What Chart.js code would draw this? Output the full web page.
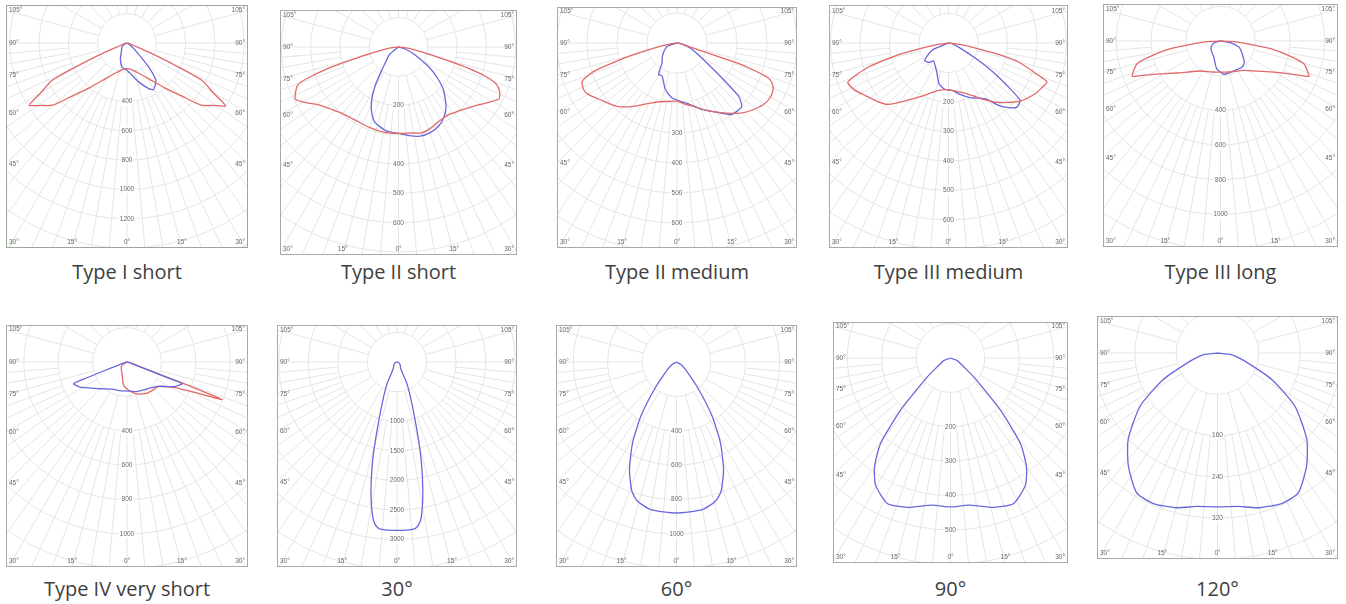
<!DOCTYPE html>
<html>
<head>
<meta charset="utf-8">
<script src="https://cdn.jsdelivr.net/npm/chart.js@4.4.1/dist/chart.umd.min.js"></script>
<style>
  body { margin: 0; background: #fff; width: 1346px; height: 604px; position: relative; overflow: hidden; }
  .panel { position: absolute; }
  .cap { position: absolute; font-family: "Open Sans", sans-serif; font-size: 20px; color: #404040;
         text-align: center; white-space: nowrap; width: 260px; line-height: 24px; }
</style>
</head>
<body>
<script>
// captions
const titles = ['Type I short', 'Type II short', 'Type II medium', 'Type III medium', 'Type III long',
                'Type IV very short', '30°', '60°', '90°', '120°'];

// gamma angles (deg, negative = left half) and intensities (cd)
const t1RedAngle = [-90,-80,-72,-68,-67,-65.2,-63.5,-60,-57.5,-54,-50,-46,-40,-31,-20,-10,0,10,20,31,40,46,50,54,57.5,60,63.5,65.2,67,68,72,80,90];
const t1RedCd    = [0,8,25,80,185,363,571,679,790,725,661,522,400,284,216,185,175,185,216,284,400,522,661,725,797,679,571,363,185,80,25,8,0];
const t1BlueAngle = [-90,-60,-51,-29,-23,-11.8,0,8.8,16.7,25.4,29.7,33,37.8,42,48.7,60,90];
const t1BlueCd    = [0,25,44,83,116,167,186,223,277,345,366,350,322,220,76,20,0];

const t2RedAngle = [-90,-85,-80,-77,-75,-73,-71,-69.5,-66,-63,-58,-54,-47,-40,-30,-20,-10,0,10,15,20,25,30,36.5,40,47,54,58,62.7,66,69,71,73,75,77,80,85,90];
const t2RedCd    = [0,18,55,100,160,255,330,366,385,394,362,336,312,297,290,292,295,295,298,304,300,293,288,287,293,310,336,358,386,378,359,325,255,160,100,55,18,0];
const t2BlueAngle = [-90,-50,-40,-36,-31,-26,-21,-17,-8,0,7,13.6,20,26.8,33,38.8,46.5,52,57,65,75,90];
const t2BlueCd    = [0,40,70,96,156,212,250,271,290,295,305,313,312,303,285,259,211,165,122,60,20,0];

const t3RedAngle = [-90,-82,-78,-74.9,-73,-71.2,-68,-63.4,-59.7,-53.5,-43.5,-34.4,-24,-12.9,0,7,14.7,25,33.7,42,48,54.6,60,64,67,69,70.5,71.6,72,73,78,90];
const t3RedCd    = [0,25,70,150,220,293,341,348,341,318,291,256,219,200,194,205,218,250,280,315,335,354,360,356,345,327,270,211,105,50,15,0];
const t3BlueAngle = [-90,-71,-55,-45,-36.9,-33,-30,-24.7,-14,-5.2,0,12.2,20,30,36.7,41,45.7,49.1,51.8,56.3,62,69,80,90];
const t3BlueCd    = [0,35,55,70,83,105,122,120,160,184,190,210,235,267,298,303,302,272,198,120,75,47,15,0];

const t4RedAngle = [-90,-82,-77.1,-73.3,-68.8,-63.1,-57.9,-50,-44.4,-37.6,-29,-21.5,-11.9,0,11,24,31,38.3,45,51,59.7,65,68.4,70.9,74.8,77,79,83,90];
const t4RedCd    = [0,40,162,283,366,355,334,310,291,250,210,185,164,158,168,194,222,255,285,313,341,352,359,311,246,180,104,40,0];
const t4BlueAngle = [-90,-66,-54,-45,-40,-30,-22,-13,-5,5,11,17,23.1,33.4,38.7,43,46.9,51.3,54.3,57,60,68,80,90];
const t4BlueCd    = [0,62,100,93,79,90,106,142,157,162,175,188,202,226,271,300,318,311,237,180,118,37,10,0];

const t5RedAngle = [-90,-88,-85,-81.3,-78,-74.8,-71,-68.2,-66.6,-63.4,-53.6,-33.7,-15,0,15,38.5,50,59.8,65.6,68.2,71,74.8,78,81.3,85,88,90];
const t5RedCd    = [0,60,135,292,400,498,530,548,503,430,311,208,185,179,185,216,270,356,465,548,530,498,400,292,135,60,0];
const t5BlueAngle = [-90,-75,-57,-40,-22.6,-8,5.7,15,24,39.8,48,54.8,65,72,80,90];
const t5BlueCd    = [0,35,64,80,100,161,193,190,189,195,185,160,130,111,60,0];

const t6RedAngle = [-90,-52.6,-23,-8.1,3.4,15,30,42,52.5,58,62,66.7,68.4,69,69.2,69.5,71,80,90];
const t6RedCd    = [0,41,74,137,165,190,213,222,232,270,318,475,594,420,300,156,60,15,0];
const t6BlueAngle = [-90,-75,-70,-69,-68.5,-67.9,-62,-58.4,-45,-29,-15,0,15,27.9,40,51,58,63.3,68.5,68.8,69.2,70,75,90];
const t6BlueCd    = [0,15,60,150,250,335,310,284,220,180,172,169,178,186,200,225,270,314,344,250,150,60,15,0];

const b30Angle = [-90,-70,-45,-33.7,-27.5,-25,-21.8,-16.6,-13.9,-11.2,-8.9,-7.5,-6,0,6,7.5,8.9,11.2,13.9,16.6,21.8,25,27.5,33.7,45,70,90];
const b30Cd    = [0,30,80,101,159,373,576,1146,1712,2268,2652,2780,2833,2845,2833,2780,2652,2250,1700,1146,576,373,159,101,80,30,0];

const b60Angle = [-90,-60,-49.6,-38.9,-33.3,-28.5,-23.6,-19,-15.6,-9.9,0,9.9,15.6,19,23.6,28.5,33.3,38.9,49.6,60,90];
const b60Cd    = [0,30,69,207,378,536,683,796,841,871,878,871,841,796,683,536,378,207,69,30,0];

const b90Angle = [-90,-70,-56,-50.8,-43.7,-39.3,-34.9,-30.5,-23.5,-16.1,-7.1,0,7.1,16.1,23.5,30.5,34.9,39.3,43.7,50.8,56,70,90];
const b90Cd    = [0,20,47,87,210,321,386,429,461,452,431,433,431,452,461,429,386,321,210,87,47,20,0];

const b120Angle = [-90,-83,-73.2,-63.9,-55.5,-45.9,-38.2,-30,-23.1,-14.8,-7.8,0,7.8,14.8,23.1,30,38.2,45.9,55.5,63.9,73.2,83,90];
const b120Cd    = [0,28,56,117,182,241,279,313,317,310,300,298,300,310,317,313,279,241,182,117,56,28,0];

// ring spacing (cd) and labelled rings per diagram
const ringStep = [200, 100, 100, 100, 200, 200, 500, 200, 100, 80];
const ringLabels = [
  [400, 600, 800, 1000, 1200], [200, 400, 500, 600], [300, 400, 500, 600], [200, 300, 400, 500, 600],
  [400, 600, 800, 1000], [400, 600, 800, 1000], [1000, 1500, 2000, 2500, 3000], [400, 600, 800, 1000],
  [200, 300, 400, 500], [160, 240, 320]
];
const sideAngles = [105, 90, 75, 60, 45];
const bottomAngles = [-30, -15, 0, 15, 30];

const RED = 'rgb(226,104,104)';
const BLUE = 'rgb(104,104,220)';

const curves = [
  [[t1RedAngle, t1RedCd, RED], [t1BlueAngle, t1BlueCd, BLUE]],
  [[t2RedAngle, t2RedCd, RED], [t2BlueAngle, t2BlueCd, BLUE]],
  [[t3RedAngle, t3RedCd, RED], [t3BlueAngle, t3BlueCd, BLUE]],
  [[t4RedAngle, t4RedCd, RED], [t4BlueAngle, t4BlueCd, BLUE]],
  [[t5RedAngle, t5RedCd, RED], [t5BlueAngle, t5BlueCd, BLUE]],
  [[t6BlueAngle, t6BlueCd, BLUE], [t6RedAngle, t6RedCd, RED]],
  [[b30Angle, b30Cd, BLUE]],
  [[b60Angle, b60Cd, BLUE]],
  [[b90Angle, b90Cd, BLUE]],
  [[b120Angle, b120Cd, BLUE]]
];

// layout: box position/size, centre offset from top, pixels per ring, caption top
const boxes = [
  {x: 6,    y: 5,   w: 242, h: 243, off: 38, ring: 29.3, cap: 260, border: '#98aa96'},
  {x: 280,  y: 10,  w: 237, h: 245, off: 37, ring: 29.3, cap: 260, border: '#a9a9a9'},
  {x: 557,  y: 7,   w: 240, h: 241, off: 36, ring: 30,   cap: 260, border: '#a9a9a9'},
  {x: 829,  y: 5,   w: 239, h: 243, off: 38, ring: 29.5, cap: 260, border: '#a9a9a9'},
  {x: 1103, y: 4,   w: 235, h: 243, off: 37, ring: 34.7, cap: 260, border: '#a9a9a9'},
  {x: 6,    y: 325, w: 242, h: 242, off: 37, ring: 34.4, cap: 577, border: '#a9a9a9'},
  {x: 277,  y: 325, w: 240, h: 242, off: 37, ring: 29.6, cap: 577, border: '#a9a9a9'},
  {x: 556,  y: 325, w: 241, h: 242, off: 37, ring: 34.4, cap: 577, border: '#a9a9a9'},
  {x: 833,  y: 322, w: 235, h: 241, off: 36, ring: 34.4, cap: 577, border: '#a9a9a9'},
  {x: 1097, y: 316, w: 241, h: 243, off: 37, ring: 41.3, cap: 577, border: '#a9a9a9'}
];

const rad = d => d * Math.PI / 180;

const polarGrid = {
  id: 'polarGrid',
  beforeDatasetsDraw(chart, args, opts) {
    const {ctx, chartArea: a, scales: {x, y}} = chart;
    const cx = x.getPixelForValue(0), cy = y.getPixelForValue(0);
    const px = v => x.getPixelForValue(v) - cx;
    const rMax = Math.hypot(a.width, a.height);
    ctx.save();
    ctx.beginPath();
    ctx.rect(a.left, a.top, a.width, a.height);
    ctx.clip();
    ctx.strokeStyle = '#e5e5e5';
    ctx.lineWidth = 1;
    for (let k = 1; px(k * opts.step) < rMax; k++) {
      ctx.beginPath();
      ctx.arc(cx, cy, px(k * opts.step), 0, 2 * Math.PI);
      ctx.stroke();
    }
    // spokes: every 15° from the inner ring, extra 5° spokes below horizontal from the second ring
    for (let g = 0; g < 360; g += 5) {
      const lower = g < 90 || g > 270;
      if (g % 15 !== 0 && !lower) continue;
      const r0 = px(g % 15 === 0 ? opts.step : 2 * opts.step);
      ctx.beginPath();
      ctx.moveTo(cx + r0 * Math.sin(rad(g)), cy + r0 * Math.cos(rad(g)));
      ctx.lineTo(cx + rMax * Math.sin(rad(g)), cy + rMax * Math.cos(rad(g)));
      ctx.stroke();
    }

    ctx.font = '6.5px "Liberation Sans", sans-serif';
    ctx.fillStyle = '#666';
    ctx.textBaseline = 'middle';
    // ring values along the 0° line
    ctx.textAlign = 'center';
    opts.labels.forEach(v => {
      const ly = y.getPixelForValue(-v);
      const tw = ctx.measureText(String(v)).width;
      ctx.fillStyle = '#fff';
      ctx.fillRect(cx - tw / 2 - 1, ly - 4, tw + 2, 8);
      ctx.fillStyle = '#666';
      ctx.fillText(String(v), cx, ly);
    });
    // side angles
    sideAngles.forEach(g => {
      const ly = y.getPixelForValue(-x.max * Math.cos(rad(g)) / Math.sin(rad(g)));
      ctx.textAlign = 'left';
      ctx.fillText(g + '°', a.left + 3, ly);
      ctx.textAlign = 'right';
      ctx.fillText(g + '°', a.right - 3, ly);
    });
    // bottom angles
    const by = a.bottom - 6;
    bottomAngles.forEach(g => {
      let lx = x.getPixelForValue(-y.min * Math.tan(rad(g)));
      if (lx <= a.left + 12) { ctx.textAlign = 'left'; lx = a.left + 3; }
      else if (lx >= a.right - 12) { ctx.textAlign = 'right'; lx = a.right - 3; }
      else ctx.textAlign = 'center';
      ctx.fillText(Math.abs(g) + '°', lx, by);
    });
    ctx.restore();
  },
  afterDraw(chart, args, opts) {
    const {ctx, chartArea: a} = chart;
    ctx.save();
    ctx.strokeStyle = opts.border;
    ctx.lineWidth = 1;
    ctx.strokeRect(a.left + 0.5, a.top + 0.5, a.width - 1, a.height - 1);
    ctx.restore();
  }
};

boxes.forEach((b, i) => {
  const div = document.createElement('div');
  div.className = 'panel';
  div.style.left = b.x + 'px';
  div.style.top = b.y + 'px';
  const canvas = document.createElement('canvas');
  canvas.width = b.w;
  canvas.height = b.h;
  div.appendChild(canvas);
  document.body.appendChild(div);

  const cap = document.createElement('div');
  cap.className = 'cap';
  cap.textContent = titles[i];
  cap.style.left = (b.x + b.w / 2 - 130) + 'px';
  cap.style.top = b.cap + 'px';
  document.body.appendChild(cap);

  const cdPerPx = ringStep[i] / b.ring;
  const datasets = curves[i].map(([ang, cd, color]) => ({
    data: ang.map((g, j) => ({x: cd[j] * Math.sin(rad(g)), y: -cd[j] * Math.cos(rad(g))})),
    showLine: true,
    borderColor: color,
    borderWidth: 1.3,
    pointRadius: 0,
    tension: 0.2
  }));

  new Chart(canvas, {
    type: 'scatter',
    data: {datasets},
    options: {
      responsive: false,
      animation: false,
      layout: {padding: 0},
      plugins: {
        legend: {display: false},
        tooltip: {enabled: false},
        polarGrid: {step: ringStep[i], labels: ringLabels[i], border: b.border}
      },
      scales: {
        x: {type: 'linear', display: false, min: -b.w / 2 * cdPerPx, max: b.w / 2 * cdPerPx},
        y: {type: 'linear', display: false, min: -(b.h - b.off) * cdPerPx, max: b.off * cdPerPx}
      }
    },
    plugins: [polarGrid]
  });
});
</script>
</body>
</html>
